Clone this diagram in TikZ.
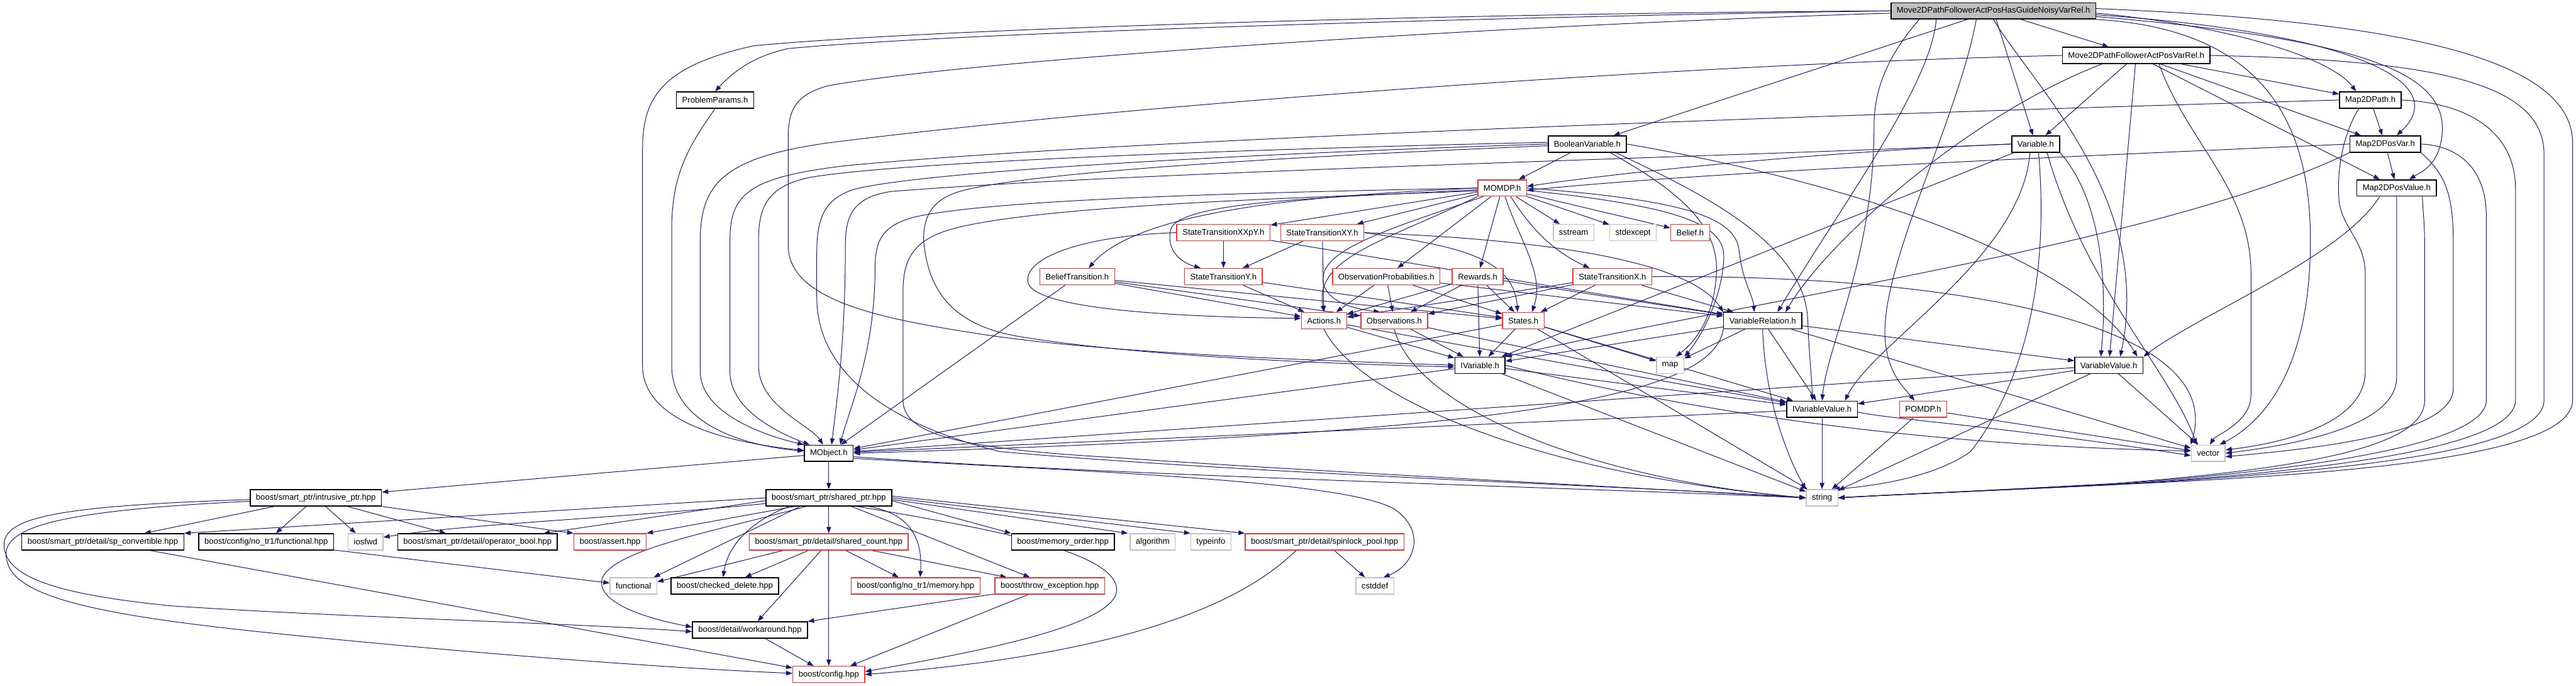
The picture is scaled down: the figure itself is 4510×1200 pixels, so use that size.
\documentclass[tikz,border=0pt]{standalone}
\usepackage{fontspec}
\setmainfont{Liberation Sans}
\usepackage{tikz}
\usetikzlibrary{arrows.meta}
\definecolor{edgeblue}{RGB}{25,25,112}
\definecolor{missred}{RGB}{255,48,48}
\definecolor{sysgrey}{RGB}{191,191,191}
\definecolor{rootgrey}{RGB}{191,191,191}
\newcommand\doxyfont{\fontsize{4.1pt}{4.9pt}\selectfont}
\pgfdeclarelayer{edges}
\pgfsetlayers{edges,main}
\tikzset{
  hdr/.style={draw=black,fill=white,line width=0.16mm,minimum height=2.85mm,
    inner xsep=1.0mm,inner ysep=0pt,font=\doxyfont},
  redhdr/.style={hdr,draw=missred},
  syshdr/.style={hdr,draw=sysgrey},
  roothdr/.style={hdr,fill=rootgrey},
  incl/.style={draw=edgeblue,line width=0.11mm,-{Triangle[length=1.1mm,width=0.8mm]}}
}
\begin{document}
\begin{tikzpicture}[x=0.1mm,y=-0.1mm]
  \useasboundingbox (0,0) rectangle (4510,1200);
  \node[roothdr] (root) at (3490,19) {Move2DPathFollowerActPosHasGuideNoisyVarRel.h};
  \node[hdr] (pathvarrel) at (3740,97) {Move2DPathFollowerActPosVarRel.h};
  \node[hdr] (problemparams) at (1252,175) {ProblemParams.h};
  \node[hdr] (map2dpath) at (4150,175) {Map2DPath.h};
  \node[hdr] (boolvar) at (2779,252) {BooleanVariable.h};
  \node[hdr] (variable) at (3564,252) {Variable.h};
  \node[hdr] (posvar) at (4176,252) {Map2DPosVar.h};
  \node[redhdr] (momdp) at (2630,329) {MOMDP.h};
  \node[hdr] (posvalue) at (4196,329) {Map2DPosValue.h};
  \node[redhdr] (stxxpy) at (2142,407) {StateTransitionXXpY.h};
  \node[redhdr] (stxy) at (2315,407) {StateTransitionXY.h};
  \node[syshdr] (sstream) at (2755,407) {sstream};
  \node[syshdr] (stdexcept) at (2859,407) {stdexcept};
  \node[redhdr] (belief) at (2959,407) {Belief.h};
  \node[redhdr] (belieftrans) at (1886,484) {BeliefTransition.h};
  \node[redhdr] (sty) at (2142,484) {StateTransitionY.h};
  \node[redhdr] (obsprob) at (2427,484) {ObservationProbabilities.h};
  \node[redhdr] (rewards) at (2587,484) {Rewards.h};
  \node[redhdr] (stx) at (2823,484) {StateTransitionX.h};
  \node[redhdr] (actions) at (2318,561) {Actions.h};
  \node[redhdr] (observations) at (2441,561) {Observations.h};
  \node[redhdr] (states) at (2667,561) {States.h};
  \node[hdr] (varrel) at (3086,561) {VariableRelation.h};
  \node[hdr] (ivariable) at (2591,639) {IVariable.h};
  \node[syshdr] (map) at (2924,639) {map};
  \node[hdr] (varvalue) at (3692,639) {VariableValue.h};
  \node[hdr] (ivarvalue) at (3190,716) {IVariableValue.h};
  \node[redhdr] (pomdp) at (3367,716) {POMDP.h};
  \node[hdr] (mobject) at (1451,793) {MObject.h};
  \node[syshdr] (vec) at (3866,793) {vector};
  \node[syshdr] (str) at (3190,871) {string};
  \node[hdr] (intrusive) at (553,871) {boost/smart\_ptr/intrusive\_ptr.hpp};
  \node[hdr] (sharedptr) at (1451,871) {boost/smart\_ptr/shared\_ptr.hpp};
  \node[hdr] (spconv) at (180,948) {boost/smart\_ptr/detail/sp\_convertible.hpp};
  \node[hdr] (nofunc) at (466,948) {boost/config/no\_tr1/functional.hpp};
  \node[syshdr] (iosfwd) at (640,948) {iosfwd};
  \node[hdr] (opbool) at (836,948) {boost/smart\_ptr/detail/operator\_bool.hpp};
  \node[redhdr] (bassert) at (1068,948) {boost/assert.hpp};
  \node[redhdr] (shcount) at (1451,948) {boost/smart\_ptr/detail/shared\_count.hpp};
  \node[hdr] (memorder) at (1861,948) {boost/memory\_order.hpp};
  \node[syshdr] (algorithm) at (2018,948) {algorithm};
  \node[syshdr] (typeinfo) at (2120,948) {typeinfo};
  \node[redhdr] (spinlock) at (2319,948) {boost/smart\_ptr/detail/spinlock\_pool.hpp};
  \node[syshdr] (functional) at (1109,1025) {functional};
  \node[hdr] (checked) at (1269,1025) {boost/checked\_delete.hpp};
  \node[redhdr] (nomem) at (1603,1025) {boost/config/no\_tr1/memory.hpp};
  \node[redhdr] (throwexc) at (1838,1025) {boost/throw\_exception.hpp};
  \node[syshdr] (cstddef) at (2407,1025) {cstddef};
  \node[hdr] (workaround) at (1313,1102) {boost/detail/workaround.hpp};
  \node[redhdr] (bconfig) at (1451,1180) {boost/config.hpp};
  \begin{pgfonlayer}{edges}
  \foreach \a/\b in {root/boolvar,root/pathvarrel,root/variable,
    pathvarrel/variable,pathvarrel/map2dpath,pathvarrel/posvar,pathvarrel/posvalue,pathvarrel/varvalue,
    boolvar/momdp,variable/ivariable,map2dpath/posvar,posvar/posvalue,
    momdp/stxxpy,momdp/stxy,momdp/sstream,momdp/stdexcept,momdp/belief,momdp/obsprob,momdp/rewards,
    stxxpy/sty,stxy/sty,stxy/actions,sty/actions,sty/states,stxxpy/varrel,
    belieftrans/actions,belieftrans/observations,belieftrans/states,belieftrans/mobject,
    obsprob/actions,obsprob/observations,obsprob/states,obsprob/varrel,
    rewards/actions,rewards/observations,rewards/states,rewards/ivariable,rewards/varrel,
    stx/actions,stx/observations,stx/states,stx/varrel,
    actions/ivariable,observations/ivariable,states/ivariable,varrel/ivariable,
    states/map,varrel/map,states/mobject,ivariable/mobject,ivarvalue/mobject,varvalue/mobject,
    ivariable/ivarvalue,actions/ivarvalue,observations/ivarvalue,states/ivarvalue,varrel/ivarvalue,
    varrel/varvalue,varvalue/ivarvalue,
    ivariable/str,states/str,ivarvalue/str,varvalue/str,pomdp/str,
    varrel/vec,varvalue/vec,pomdp/vec,
    mobject/intrusive,mobject/sharedptr,
    intrusive/spconv,intrusive/nofunc,intrusive/iosfwd,intrusive/opbool,
    sharedptr/shcount,spconv/bconfig,nofunc/functional,
    shcount/checked,shcount/workaround,shcount/bconfig,shcount/nomem,shcount/throwexc,
    throwexc/workaround,throwexc/bconfig,workaround/bconfig,spinlock/cstddef}
    \draw[incl] (\a) -- (\b);
  \draw[incl] (root.west) .. controls (2700,22) and (1700,45) .. (1320,80) .. controls (1160,115) and (1125,170) .. (1125,260) -- (1125,640) .. controls (1125,740) and (1280,775) .. ([yshift=0.5mm]mobject.west);
  \draw[incl] (root.west) .. controls (2700,28) and (1700,55) .. (1380,85) .. controls (1310,100) and (1275,135) .. (problemparams.north);
  \draw[incl] ([yshift=-0.4mm]root.west) .. controls (2600,45) and (1700,105) .. (1450,150) .. controls (1395,165) and (1380,190) .. (1380,240) -- (1380,430) .. controls (1380,530) and (1560,560) .. (1720,585) .. controls (1950,620) and (2350,632) .. (ivariable.west);
  \draw[incl] (problemparams.south) .. controls (1210,250) and (1176,300) .. (1176,400) -- (1176,640) .. controls (1176,740) and (1300,780) .. ([yshift=0.4mm]mobject.west);
  \draw[incl] (pathvarrel.west) .. controls (3000,110) and (2000,180) .. (1450,250) .. controls (1270,275) and (1226,320) .. (1226,420) -- (1226,650) .. controls (1226,720) and (1330,760) .. (mobject.north west);
  \draw[incl] (map2dpath.west) .. controls (3400,195) and (2000,240) .. (1480,290) .. controls (1310,310) and (1278,340) .. (1278,420) -- (1278,650) .. controls (1278,720) and (1370,760) .. ([xshift=1mm]mobject.north west);
  \draw[incl] ([yshift=0.3mm]boolvar.west) .. controls (2300,258) and (1600,280) .. (1420,310) .. controls (1345,325) and (1328,360) .. (1328,420) -- (1328,640) .. controls (1328,710) and (1420,745) .. ([xshift=-1mm]mobject.north);
  \draw[incl] (boolvar.west) .. controls (2300,265) and (1650,295) .. (1500,330) .. controls (1445,345) and (1430,380) .. (1430,440) -- (1430,520) .. controls (1430,650) and (1550,740) .. (1750,790) .. controls (2200,830) and (2900,852) .. (str.west);
  \draw[incl] ([yshift=-0.3mm]boolvar.west) .. controls (2300,272) and (1800,300) .. (1680,335) .. controls (1630,350) and (1617,380) .. (1617,420) .. controls (1625,520) and (1680,570) .. (1780,588) .. controls (2000,625) and (2350,637) .. ([yshift=-0.3mm]ivariable.west);
  \draw[incl] (variable.west) .. controls (3000,275) and (2000,300) .. (1560,335) .. controls (1495,345) and (1480,375) .. (1480,430) .. controls (1480,600) and (1465,700) .. ([xshift=0.5mm]mobject.north);
  \draw[incl] (momdp.west) .. controls (2300,335) and (1750,345) .. (1600,380) .. controls (1545,395) and (1532,420) .. (1532,470) .. controls (1532,620) and (1485,720) .. ([xshift=2mm]mobject.north);
  \draw[incl] ([yshift=-0.5mm]momdp.west) .. controls (2300,345) and (1750,360) .. (1640,410) .. controls (1595,430) and (1581,460) .. (1581,510) -- (1581,700) .. controls (1581,760) and (1680,785) .. (1943,800) .. controls (2300,825) and (2900,855) .. (str.west);
  \draw[incl] ([yshift=-0.4mm]root.east) .. controls (3900,45) and (4080,100) .. ([xshift=-2.5mm]map2dpath.north);
  \draw[incl] ([yshift=-0.7mm]root.east) .. controls (4100,55) and (4300,140) .. ([xshift=2mm]posvar.north);
  \draw[incl] ([yshift=-1mm]root.east) .. controls (4150,70) and (4290,130) .. (4275,240) .. controls (4268,290) and (4240,300) .. ([xshift=2.2mm]posvalue.north);
  \draw[incl] ([yshift=0.4mm]root.east) .. controls (4150,35) and (4504,90) .. (4504,250) -- (4504,700) .. controls (4504,800) and (4100,830) .. (3700,848) .. controls (3450,860) and (3300,866) .. (str.east);
  \draw[incl] (pathvarrel.east) .. controls (4250,105) and (4454,140) .. (4454,270) -- (4454,700) .. controls (4454,790) and (4100,825) .. (3700,848) .. controls (3450,860) and (3300,866) .. (str.east);
  \draw[incl] (map2dpath.east) .. controls (4320,180) and (4404,230) .. (4404,330) -- (4404,700) .. controls (4404,780) and (4100,822) .. (3700,848) .. controls (3450,860) and (3300,866) .. (str.east);
  \draw[incl] (posvar.east) .. controls (4300,255) and (4353,290) .. (4353,380) -- (4353,700) .. controls (4353,770) and (4100,818) .. (3700,847) .. controls (3450,860) and (3300,866) .. (str.east);
  \draw[incl] ([xshift=4.5mm]posvalue.south) .. controls (4242,370) and (4245,390) .. (4245,430) -- (4245,700) .. controls (4245,770) and (4100,815) .. (3700,846) .. controls (3450,860) and (3300,866) .. (str.east);
  \draw[incl] (posvar.south east) .. controls (4275,300) and (4295,330) .. (4295,420) -- (4295,680) .. controls (4295,760) and (4050,785) .. ([yshift=-0.6mm]vec.east);
  \draw[incl] (posvalue.south) -- (4196,660) .. controls (4196,750) and (4000,780) .. (vec.east);
  \draw[incl] ([xshift=-2mm]map2dpath.south) .. controls (4110,220) and (4090,280) .. (4095,350) .. controls (4100,400) and (4141,420) .. (4141,480) -- (4141,650) .. controls (4141,740) and (4000,775) .. ([yshift=0.6mm]vec.east);
  \draw[incl] (root.south east) .. controls (3950,50) and (4045,200) .. (4045,420) .. controls (4045,650) and (3960,740) .. ([xshift=2mm]vec.north);
  \draw[incl] ([xshift=4mm]pathvarrel.south) .. controls (3830,250) and (3941,330) .. (3941,480) -- (3941,690) .. controls (3941,740) and (3880,760) .. ([xshift=0.3mm]vec.north);
  \draw[incl] (root.south) .. controls (3560,150) and (3770,350) .. ([xshift=2mm]varvalue.north);
  \draw[incl] ([xshift=5mm]root.south west) .. controls (3330,70) and (3281,130) .. (3281,220) .. controls (3281,450) and (3200,600) .. (ivarvalue.north);
  \draw[incl] ([xshift=8mm]root.south west) .. controls (3380,150) and (3230,350) .. ([xshift=2.6mm]varrel.north);
  \draw[incl] ([xshift=15mm]root.south west) .. controls (3430,200) and (3300,450) .. (3300,580) .. controls (3300,650) and (3335,680) .. ([xshift=-1.5mm]pomdp.north);
  \draw[incl] ([xshift=-6mm]pathvarrel.south) .. controls (3450,200) and (3200,420) .. ([xshift=4mm]varrel.north);
  \draw[incl] ([xshift=5mm]boolvar.south) .. controls (2960,330) and (3160,420) .. (3165,560) .. controls (3167,620) and (3172,660) .. ([xshift=-1.7mm]ivarvalue.north);
  \draw[incl] (boolvar.east) .. controls (3300,330) and (3650,470) .. ([xshift=5mm]varvalue.north);
  \draw[incl] ([xshift=4mm]boolvar.south) .. controls (2950,340) and (3010,400) .. (3005,480) .. controls (3000,560) and (2965,600) .. ([xshift=1mm]map.north);
  \draw[incl] (variable.west) .. controls (3200,265) and (2850,300) .. ([yshift=0.3mm]momdp.east);
  \draw[incl] ([xshift=-1mm]variable.south) .. controls (3540,450) and (3280,600) .. ([xshift=4mm]ivarvalue.north);
  \draw[incl] (variable.south east) .. controls (3680,350) and (3690,500) .. ([xshift=-1.4mm]varvalue.north);
  \draw[incl] ([xshift=2mm]variable.south) .. controls (3650,500) and (3800,650) .. ([xshift=-2mm]vec.north);
  \draw[incl] ([xshift=0.5mm]variable.south) .. controls (3585,450) and (3560,650) .. (3450,790) .. controls (3380,840) and (3260,852) .. ([xshift=2mm]str.north);
  \draw[incl] (posvar.west) .. controls (3600,275) and (3000,300) .. ([yshift=-0.4mm]momdp.east);
  \draw[incl] (posvar.south west) .. controls (3800,420) and (3100,520) .. (ivariable.north east);
  \draw[incl] ([xshift=-3mm]posvalue.south) .. controls (4100,450) and (3850,550) .. (varvalue.north east);
  \draw[incl] (momdp.west) .. controls (2350,340) and (2000,360) .. ([xshift=2mm]belieftrans.north);
  \draw[incl] ([yshift=-0.3mm]momdp.west) .. controls (2350,345) and (2070,350) .. (2050,400) .. controls (2040,440) and (2070,460) .. ([xshift=-4mm]sty.north);
  \draw[incl] (momdp.south west) .. controls (2430,420) and (2300,450) .. (actions.north);
  \draw[incl] ([xshift=1mm]momdp.south west) .. controls (2420,405) and (2300,440) .. (2318,500) .. controls (2330,530) and (2370,540) .. ([xshift=-2.5mm]observations.north);
  \draw[incl] ([xshift=0.5mm]momdp.south) .. controls (2660,420) and (2705,480) .. ([xshift=1.5mm]states.north);
  \draw[incl] ([xshift=1.5mm]momdp.south) .. controls (2680,400) and (2720,440) .. ([xshift=-4mm]stx.north);
  \draw[incl] (momdp.east) .. controls (2950,350) and (3040,380) .. (3045,440) .. controls (3050,490) and (3070,520) .. ([xshift=-1.5mm]varrel.north);
  \draw[incl] ([yshift=-0.4mm]momdp.east) .. controls (2930,360) and (3020,390) .. (3018,450) .. controls (3015,530) and (2970,600) .. (map.north east);
  \draw[incl] (stxxpy.west) .. controls (1900,412) and (1790,450) .. (1800,495) .. controls (1815,545) and (2100,555) .. ([yshift=0.4mm]actions.west);
  \draw[incl] (stxy.east) .. controls (2550,430) and (2650,450) .. ([xshift=-1mm]states.north);
  \draw[incl] (stxy.east) .. controls (2600,415) and (2950,440) .. (varrel.north west);
  \draw[incl] (stx.east) .. controls (3400,480) and (3900,560) .. (vec.north west);
  \draw[incl] (ivariable.east) .. controls (3000,730) and (3400,780) .. ([yshift=0.4mm]vec.west);
  \draw[incl] ([yshift=-0.5mm]ivarvalue.east) .. controls (3320,735) and (3500,745) .. ([yshift=-0.4mm]vec.west);
  \draw[incl] (actions.south) .. controls (2380,700) and (2700,830) .. (str.west);
  \draw[incl] (observations.south) .. controls (2480,720) and (2800,840) .. (str.west);
  \draw[incl] (varrel.south) .. controls (3090,700) and (3130,800) .. (str.north west);
  \draw[incl] (varrel.south west) .. controls (3000,700) and (2600,760) .. (mobject.east);
  \draw[incl] ([yshift=-0.6mm]mobject.east) .. controls (1900,830) and (2800,855) .. (str.west);
  \draw[incl] ([yshift=-0.9mm]mobject.east) .. controls (1900,825) and (2350,840) .. (2440,890) .. controls (2500,930) and (2475,990) .. ([xshift=1.5mm]cstddef.north);
  \draw[incl] (intrusive.south east) -- (bassert.north west);
  \draw[incl] ([yshift=-0.3mm]intrusive.west) .. controls (100,885) and (5,905) .. (7,955) .. controls (10,1010) and (100,1040) .. (300,1060) .. controls (600,1080) and (1000,1090) .. ([yshift=-0.3mm]workaround.west);
  \draw[incl] ([yshift=-0.6mm]intrusive.west) .. controls (60,895) and (-10,930) .. (15,990) .. controls (40,1050) and (200,1080) .. (500,1110) .. controls (900,1150) and (1200,1170) .. ([yshift=0.2mm]bconfig.west);
  \draw[incl] (sharedptr.west) -- (spconv.north east);
  \draw[incl] ([yshift=-0.5mm]sharedptr.west) -- ([xshift=-2.5mm]opbool.north east);
  \draw[incl] ([yshift=-1mm]sharedptr.west) .. controls (1100,905) and (800,918) .. ([yshift=0.8mm]iosfwd.east);
  \draw[incl] ([xshift=-6mm]sharedptr.south) -- (bassert.north east);
  \draw[incl] ([xshift=-5mm]sharedptr.south) -- ([xshift=-0.6mm]functional.north east);
  \draw[incl] ([xshift=-7mm]sharedptr.south) .. controls (1320,910) and (1275,950) .. ([xshift=-0.3mm]checked.north);
  \draw[incl] ([xshift=-4mm]sharedptr.south) .. controls (1250,930) and (1080,960) .. (1055,1010) .. controls (1040,1050) and (1120,1080) .. ([yshift=0.5mm]workaround.west);
  \draw[incl] ([xshift=7mm]sharedptr.south) .. controls (1600,900) and (1615,950) .. ([xshift=0.8mm]nomem.north);
  \draw[incl] ([xshift=4mm]sharedptr.south) -- ([xshift=-3.5mm]throwexc.north);
  \draw[incl] ([xshift=5mm]sharedptr.south) .. controls (1700,920) and (1950,960) .. (1955,1030) .. controls (1960,1100) and (1650,1150) .. ([yshift=0.5mm]bconfig.east);
  \draw[incl] ([yshift=-0.5mm]sharedptr.east) -- (memorder.north west);
  \draw[incl] ([yshift=-0.3mm]sharedptr.east) -- ([xshift=-0.3mm]algorithm.north west);
  \draw[incl] (sharedptr.east) -- (typeinfo.north west);
  \draw[incl] ([yshift=0.3mm]sharedptr.east) -- (spinlock.north west);
  \draw[incl] ([xshift=-8mm]shcount.south) -- ([yshift=-0.8mm]functional.north east);
  \draw[incl] ([xshift=-5mm]spinlock.south) .. controls (2150,1080) and (1900,1150) .. (bconfig.east);
  \end{pgfonlayer}
\end{tikzpicture}
\end{document}
